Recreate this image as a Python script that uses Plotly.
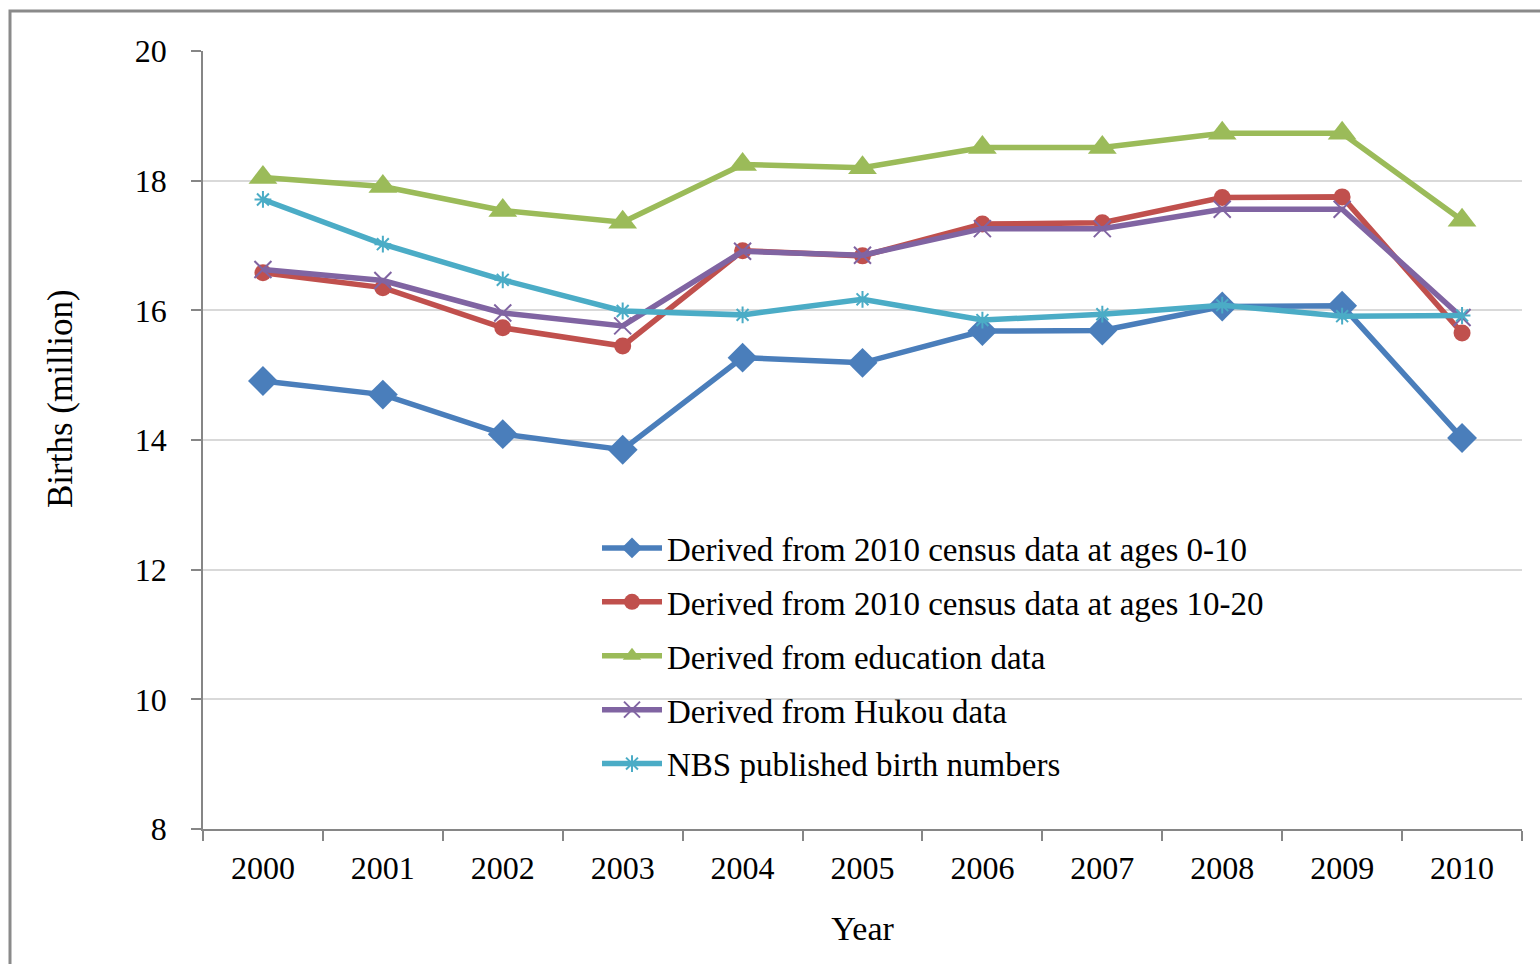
import plotly.graph_objects as go

# Annual births in China, 2000-2010, from several estimation sources (million)
years = ["2000", "2001", "2002", "2003", "2004", "2005", "2006", "2007", "2008", "2009", "2010"]

census_0_10 = [14.91, 14.70, 14.09, 13.85, 15.27, 15.19, 15.68, 15.69, 16.06, 16.07, 14.03]
census_10_20 = [16.58, 16.35, 15.73, 15.45, 16.92, 16.84, 17.33, 17.35, 17.74, 17.75, 15.65]
education = [18.05, 17.91, 17.54, 17.36, 18.25, 18.20, 18.51, 18.51, 18.73, 18.73, 17.39]
hukou = [16.63, 16.46, 15.96, 15.76, 16.91, 16.85, 17.26, 17.26, 17.56, 17.56, 15.89]
nbs_published = [17.71, 17.02, 16.47, 15.99, 15.93, 16.17, 15.85, 15.94, 16.08, 15.91, 15.92]

series_names = [
    "Derived from 2010 census data at ages 0-10",
    "Derived from 2010 census data at ages 10-20",
    "Derived from education data",
    "Derived from Hukou data",
    "NBS published birth numbers",
]
y_ticks = [8, 10, 12, 14, 16, 18, 20]

FONT = "Liberation Serif, Times New Roman, serif"

styles = [
    dict(color="#4A7EBB", symbol="diamond", size=23, lw=0),
    dict(color="#C0504D", symbol="circle", size=17, lw=0),
    dict(color="#9BBB59", symbol="triangle-up", size=25, lw=0),
    dict(color="#8064A2", symbol="x-thin-open", size=17, lw=2),
    dict(color="#4BACC6", symbol="asterisk-open", size=14, lw=2),
]

fig = go.Figure()
for i, (name, vals, st) in enumerate(zip(series_names,
                                         [census_0_10, census_10_20, education, hukou, nbs_published],
                                         styles)):
    fig.add_trace(go.Scatter(
        x=years, y=vals, name=name, mode="lines+markers",
        legendgroup=f"g{i}",
        line=dict(color=st["color"], width=5.5),
        marker=dict(symbol=st["symbol"], size=st["size"], color=st["color"],
                    line=dict(color=st["color"], width=st["lw"])),
    ))

# outer chart frame
fig.add_shape(type="rect", xref="paper", yref="paper",
              x0=(10 - 203) / 1319, x1=(1560 - 203) / 1319,
              y0=(829 - 990) / 778, y1=(829 - 11) / 778,
              line=dict(color="#8a8a8a", width=3), fillcolor="rgba(0,0,0,0)", layer="below")

fig.add_annotation(text="Births (million)", textangle=-90, xref="paper", yref="paper",
                   x=(60 - 203) / 1319, y=(829 - 399) / 778, showarrow=False,
                   xanchor="center", yanchor="middle",
                   font=dict(family=FONT, size=35, color="#000000"))

fig.update_layout(
    width=1540, height=964,
    margin=dict(l=203, r=18, t=51, b=135),
    paper_bgcolor="white", plot_bgcolor="white",
    font=dict(family=FONT, size=32, color="#000000"),
    showlegend=True,
    legend=dict(x=(597 - 203) / 1319, y=(829 - 520) / 778, xanchor="left", yanchor="top",
                bgcolor="rgba(0,0,0,0)", font=dict(family=FONT, size=33),
                tracegroupgap=8, itemwidth=60),
    xaxis=dict(type="category", range=[-0.5, 10.5], tickson="boundaries",
               ticks="outside", ticklen=10, tickcolor="#868686", tickwidth=1.5,
               showline=True, linecolor="#868686", linewidth=1.5, showgrid=False,
               tickfont=dict(family=FONT, size=32), ticklabelstandoff=10,
               title=dict(text="Year", font=dict(family=FONT, size=34), standoff=31)),
    yaxis=dict(range=[8, 20], tickvals=y_ticks, ticks="outside", ticklen=10,
               tickcolor="#868686", tickwidth=1.5, showline=True, linecolor="#868686",
               linewidth=1.5, showgrid=True, gridcolor="#d9d9d9", gridwidth=1.5,
               zeroline=False, tickfont=dict(family=FONT, size=32), ticklabelstandoff=18),
)

fig.write_html("out.html")
